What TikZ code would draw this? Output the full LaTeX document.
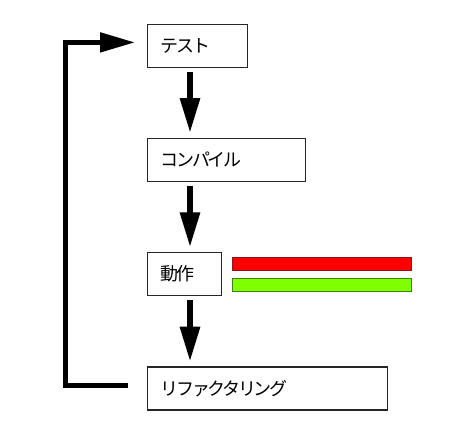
\documentclass[tikz,border=0pt]{standalone}
\usepackage{fontspec}
\newfontfamily\jp[LetterSpace=-13]{Noto Sans CJK JP}
\usetikzlibrary{arrows.meta}
\begin{document}
\begin{tikzpicture}[x=1pt,y=-1pt,
  box/.style={draw=black!85, line width=1.4pt, anchor=north west, inner xsep=13pt, inner ysep=0pt,
    minimum height=43pt, font=\jp\fontsize{18}{20}\selectfont, align=left},
  flow/.style={line width=6pt, -{Triangle[length=35pt,width=19pt]}},
  loop/.style={line width=5pt, -{Triangle[length=35pt,width=19pt]}},
  bar/.style={line width=1pt, anchor=north west, minimum width=179pt, minimum height=13.5pt, inner sep=0pt}]
\useasboundingbox (0,0) rectangle (474,434);
\node[box, text width=74pt] (test) at (147,23.5) {テスト};
\node[box, text width=132pt] (comp) at (147,137.5) {コンパイル};
\node[box, text width=48pt] (run) at (147,251.8) {動作};
\node[box, text width=214pt] (ref) at (147,366.2) {リファクタリング};
\node[bar, draw={rgb,255:red,150;green,20;blue,20}, fill={rgb,255:red,255;green,0;blue,0}] (red) at (231.8,256.8) {};
\node[bar, draw={rgb,255:red,60;green,130;blue,20}, fill={rgb,255:red,128;green,255;blue,0}] (green) at (231.8,277.8) {};
\draw[flow] ([shift={(43,4)}]test.south west) -- ([shift={(43,-4.5)}]comp.north west);
\draw[flow] ([shift={(43,4)}]comp.south west) -- ([shift={(43,-4.5)}]run.north west);
\draw[flow] ([shift={(43,4)}]run.south west) -- ([shift={(43,-4.5)}]ref.north west);
\coordinate (ls) at ([shift={(-19,-2.5)}]ref.west);
\coordinate (le) at ([shift={(-12,-3.3)}]test.west);
\draw[loop] (ls) -- ++(-63,0) |- (le);
\end{tikzpicture}
\end{document}
